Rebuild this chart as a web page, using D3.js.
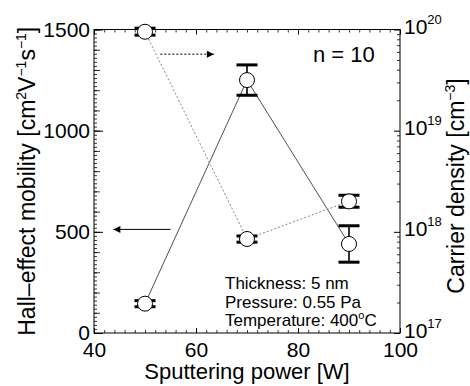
<!DOCTYPE html>
<html>
<head>
<meta charset="utf-8">
<script src="https://cdn.jsdelivr.net/npm/d3@7"></script>
<style>
body { margin: 0; background: #fff; }
text { font-family: "Liberation Sans", Arial, sans-serif; fill: #000; }
</style>
</head>
<body>
<svg id="chart" width="470" height="386"></svg>
<script>
/* global d3 */

// datos
var power = [50, 70, 90];                       // W
var mobility = [145, 1250, 440];                // cm2/Vs
var mobilityErr = [15, 75, 90];
var density = [9.5e19, 8.5e17, 2.0e18];         // cm-3
var densityLo = [8.8e19, 7.9e17, 1.75e18];
var densityHi = [1.03e20, 9.1e17, 2.3e18];
var xTicks = [40, 60, 80, 100];
var mobTicks = [0, 500, 1000, 1500];
var denTicks = [1e17, 1e18, 1e19, 1e20];
var denExp = ["17", "18", "19", "20"];
var notes = ["Thickness: 5 nm", "Pressure: 0.55 Pa", "Temperature: 400"];

var svg = d3.select("#chart");
var pL = 94, pR = 400, pT = 29.5, pB = 333;     // area del grafico

var x = d3.scaleLinear().domain([40, 100]).range([pL, pR]);
var yL = d3.scaleLinear().domain([0, 1500]).range([pB, pT]);
var yR = d3.scaleLog().domain([1e17, 1e20]).range([pB, pT]);

// marcas menores
function minor(axis, at, vals, size) {
  var g = svg.append("g").attr("transform", at)
    .call(axis.tickValues(vals).tickSize(size).tickFormat(""));
  g.select(".domain").remove();
  g.selectAll("line").attr("stroke-width", 0.8);
}
minor(d3.axisBottom(x), "translate(0," + pB + ")", d3.range(40, 101, 2), -3);
minor(d3.axisTop(x), "translate(0," + pT + ")", d3.range(40, 101, 2), -3);
minor(d3.axisLeft(yL), "translate(" + pL + ",0)", d3.range(0, 1501, 20), -3);
minor(d3.axisLeft(yL), "translate(" + pL + ",0)", d3.range(0, 1501, 100), -6);
var logMinor = [];
[1e17, 1e18, 1e19].forEach(function (d) { for (var k = 2; k < 10; k++) logMinor.push(d * k); });
minor(d3.axisRight(yR), "translate(" + pR + ",0)", logMinor, -3);

// ejes principales
var gx = svg.append("g").attr("transform", "translate(0," + pB + ")")
  .call(d3.axisBottom(x).tickValues(xTicks).tickSize(-5).tickPadding(9));
var gxt = svg.append("g").attr("transform", "translate(0," + pT + ")")
  .call(d3.axisTop(x).tickValues(xTicks).tickSize(-5).tickFormat(""));
var gl = svg.append("g").attr("transform", "translate(" + pL + ",0)")
  .call(d3.axisLeft(yL).tickValues(mobTicks).tickSize(-9).tickPadding(4).tickFormat(d3.format("d")));
var gr = svg.append("g").attr("transform", "translate(" + pR + ",0)")
  .call(d3.axisRight(yR).tickValues(denTicks).tickSize(-6).tickPadding(4).tickFormat(function () { return ""; }));

[gx, gxt, gl, gr].forEach(function (g) {
  g.select(".domain").remove();
  g.selectAll("line").attr("stroke-width", 1);
  g.selectAll("text").attr("font-size", 21).attr("font-family", null);
});
gr.selectAll(".tick text").each(function (d, i) {
  var t = d3.select(this).attr("dy", null).attr("y", 4);
  t.append("tspan").text("10");
  t.append("tspan").attr("font-size", 13).attr("dy", -10).text(denExp[i]);
});

// marco
svg.append("rect").attr("x", pL).attr("y", pT)
  .attr("width", pR - pL).attr("height", pB - pT)
  .attr("fill", "none").attr("stroke", "#000").attr("stroke-width", 1);

// lineas
svg.append("path").datum(power)
  .attr("d", d3.line().x(function (d) { return x(d); }).y(function (d, i) { return yL(mobility[i]); }))
  .attr("fill", "none").attr("stroke", "#222").attr("stroke-width", 0.8);
svg.append("path").datum(power)
  .attr("d", d3.line().x(function (d) { return x(d); }).y(function (d, i) { return yR(density[i]); }))
  .attr("fill", "none").attr("stroke", "#777").attr("stroke-width", 0.9).attr("stroke-dasharray", "2,2");

// barras de error
function errBars(lo, hi) {
  var g = svg.append("g");
  power.forEach(function (p, i) {
    g.append("line").attr("x1", x(p)).attr("x2", x(p)).attr("y1", lo[i]).attr("y2", hi[i])
      .attr("stroke", "#000").attr("stroke-width", 1.6);
    [lo[i], hi[i]].forEach(function (yy) {
      g.append("line").attr("x1", x(p) - 10.5).attr("x2", x(p) + 10.5).attr("y1", yy).attr("y2", yy)
        .attr("stroke", "#000").attr("stroke-width", 3);
    });
  });
}
errBars(mobility.map(function (m, i) { return yL(m - mobilityErr[i]); }),
        mobility.map(function (m, i) { return yL(m + mobilityErr[i]); }));
errBars(densityLo.map(function (d) { return yR(d); }), densityHi.map(function (d) { return yR(d); }));

// circulos
function dots(ys) {
  svg.append("g").selectAll("circle").data(power).join("circle")
    .attr("cx", function (d) { return x(d); })
    .attr("cy", function (d, i) { return ys[i]; })
    .attr("r", 7.5).attr("fill", "#fff").attr("stroke", "#000").attr("stroke-width", 1);
}
dots(mobility.map(function (m) { return yL(m); }));
dots(density.map(function (d) { return yR(d); }));

// flechas
svg.append("defs").append("marker").attr("id", "head")
  .attr("viewBox", "0 0 10 10").attr("refX", 10).attr("refY", 5)
  .attr("markerWidth", 9).attr("markerHeight", 7).attr("markerUnits", "userSpaceOnUse")
  .attr("orient", "auto")
  .append("path").attr("d", "M0,0L10,5L0,10Z").attr("fill", "#000");
svg.append("line").attr("x1", x(55)).attr("x2", x(43.8)).attr("y1", yL(512)).attr("y2", yL(512))
  .attr("stroke", "#000").attr("stroke-width", 1).attr("marker-end", "url(#head)");
svg.append("line").attr("x1", x(53)).attr("x2", x(63.5)).attr("y1", yR(5.7e19)).attr("y2", yR(5.7e19))
  .attr("stroke", "#000").attr("stroke-width", 1).attr("stroke-dasharray", "2,2")
  .attr("marker-end", "url(#head)");

// textos
svg.append("text").attr("x", 313).attr("y", 62).attr("font-size", 22).text("n = 10");
var nt = svg.append("g").attr("font-size", 17);
notes.forEach(function (s, i) {
  var t = nt.append("text").attr("x", 225).attr("y", 289 + i * 18.5).text(s);
  if (i === 2) {
    t.append("tspan").attr("font-size", 11).attr("dy", -7).text("o");
    t.append("tspan").attr("dy", 7).text("C");
  }
});

svg.append("text").attr("x", (pL + pR) / 2).attr("y", 379)
  .attr("text-anchor", "middle").attr("font-size", 22).text("Sputtering power [W]");

var yt = svg.append("text").attr("transform", "translate(35," + (pT + pB) / 2 + ") rotate(-90)")
  .attr("text-anchor", "middle").attr("font-size", 23);
yt.append("tspan").text("Hall\u2013effect mobility [cm");
yt.append("tspan").attr("font-size", 14).attr("dy", -9).text("2");
yt.append("tspan").attr("dy", 9).text("V");
yt.append("tspan").attr("font-size", 14).attr("dy", -9).text("\u22121");
yt.append("tspan").attr("dy", 9).text("s");
yt.append("tspan").attr("font-size", 14).attr("dy", -9).text("\u22121");
yt.append("tspan").attr("dy", 9).text("]");

var rt = svg.append("text").attr("transform", "translate(464,186) rotate(-90)")
  .attr("text-anchor", "middle").attr("font-size", 23);
rt.append("tspan").text("Carrier density [cm");
rt.append("tspan").attr("font-size", 14).attr("dy", -9).text("\u22123");
rt.append("tspan").attr("dy", 9).text("]");
</script>
</body>
</html>
